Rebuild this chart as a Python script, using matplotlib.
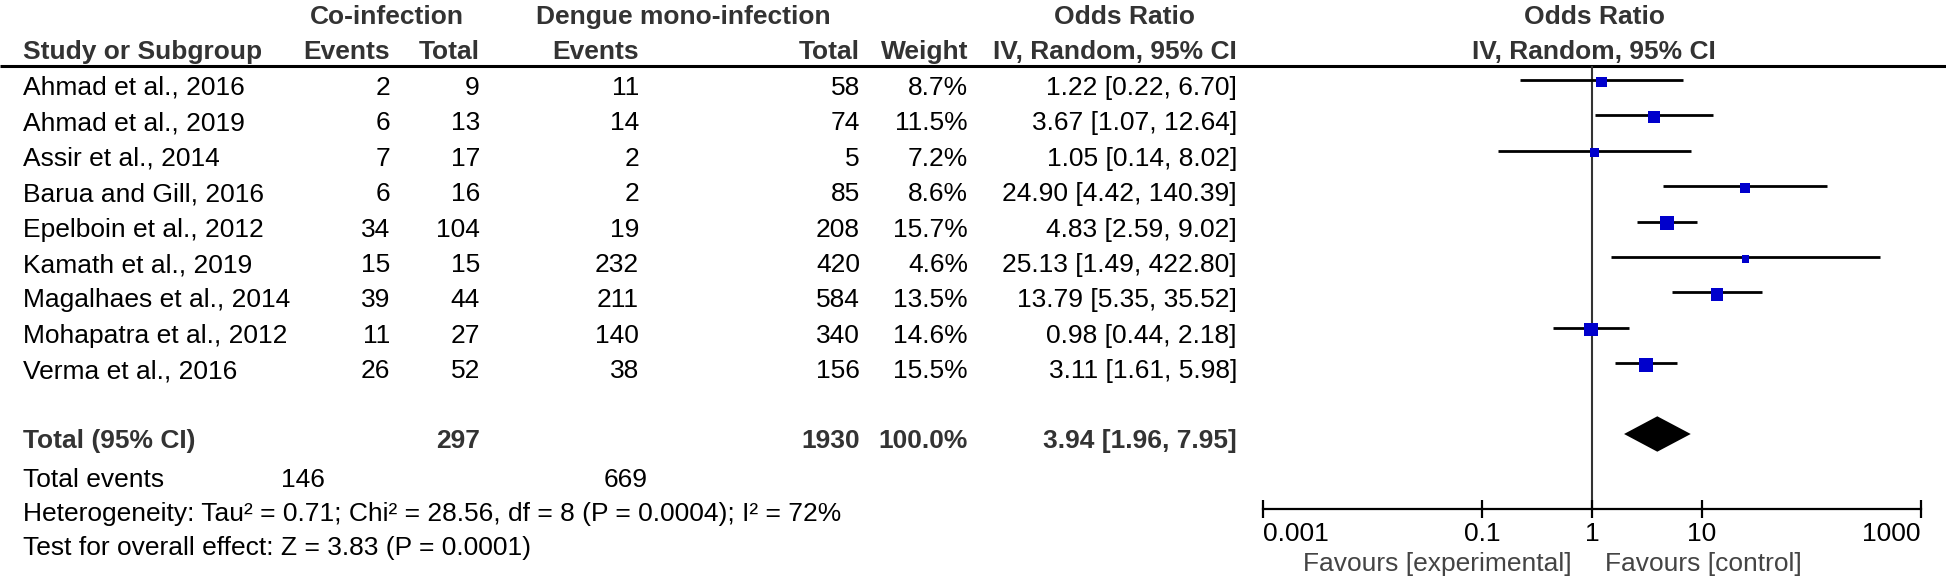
import numpy as np
import matplotlib
matplotlib.use("Agg")
import matplotlib.pyplot as plt

plt.rcParams['font.family'] = ['Liberation Sans', 'DejaVu Sans']
plt.rcParams['font.size'] = 19

studies = ["Ahmad et al., 2016", "Ahmad et al., 2019", "Assir et al., 2014",
           "Barua and Gill, 2016", "Epelboin et al., 2012", "Kamath et al., 2019",
           "Magalhaes et al., 2014", "Mohapatra et al., 2012", "Verma et al., 2016"]
co_events = [2, 6, 7, 6, 34, 15, 39, 11, 26]
co_total = [9, 13, 17, 16, 104, 15, 44, 27, 52]
mono_events = [11, 14, 2, 2, 19, 232, 211, 140, 38]
mono_total = [58, 74, 5, 85, 208, 420, 584, 340, 156]
weight = [8.7, 11.5, 7.2, 8.6, 15.7, 4.6, 13.5, 14.6, 15.5]
or_est = [1.22, 3.67, 1.05, 24.90, 4.83, 25.13, 13.79, 0.98, 3.11]
or_lo = [0.22, 1.07, 0.14, 4.42, 2.59, 1.49, 5.35, 0.44, 1.61]
or_hi = [6.70, 12.64, 8.02, 140.39, 9.02, 422.80, 35.52, 2.18, 5.98]
total_est, total_lo, total_hi = 3.94, 1.96, 7.95
xticks = [0.001, 0.1, 1, 10, 1000]
xticklabels = ["0.001", "0.1", "1", "10", "1000"]

W, H = 1946, 576
fig = plt.figure(figsize=(W / 100, H / 100), dpi=100)

# table part, pixel coordinates
tab = fig.add_axes([0, 0, 1, 1])
tab.set_xlim(0, W)
tab.set_ylim(H, 0)
tab.axis('off')

hdr = '#333333'
cols = [390, 480, 639, 860, 968, 1237]

def t(x, y, s, ha='right', bold=False, color='black'):
    tab.text(x, y, s, ha=ha, va='baseline', color=color,
             fontweight='bold' if bold else 'normal')

# header
t(387, 24, "Co-infection", ha='center', bold=True, color=hdr)
t(683, 24, "Dengue mono-infection", ha='center', bold=True, color=hdr)
t(1124, 24, "Odds Ratio", ha='center', bold=True, color=hdr)
t(1594, 24, "Odds Ratio", ha='center', bold=True, color=hdr)
t(23, 59, "Study or Subgroup", ha='left', bold=True, color=hdr)
for x, s in zip(cols, ["Events", "Total", "Events", "Total", "Weight",
                       "IV, Random, 95% CI"]):
    t(x, 59, s, bold=True, color=hdr)
t(1594, 59, "IV, Random, 95% CI", ha='center', bold=True, color=hdr)
tab.plot([0, W], [66, 66], color='black', lw=2.2, solid_capstyle='butt')

for i, name in enumerate(studies):
    y = 95 + 35.4 * i
    t(23, y, name, ha='left')
    vals = [str(co_events[i]), str(co_total[i]), str(mono_events[i]),
            str(mono_total[i]), f"{weight[i]:.1f}%",
            f"{or_est[i]:.2f} [{or_lo[i]:.2f}, {or_hi[i]:.2f}]"]
    for x, s in zip(cols, vals):
        t(x, y, s)

tb = 448
t(23, tb, "Total (95% CI)", ha='left', bold=True, color=hdr)
t(cols[1], tb, str(sum(co_total)), bold=True, color=hdr)
t(cols[3], tb, str(sum(mono_total)), bold=True, color=hdr)
t(cols[4], tb, "100.0%", bold=True, color=hdr)
t(cols[5], tb, f"{total_est:.2f} [{total_lo:.2f}, {total_hi:.2f}]", bold=True, color=hdr)

t(23, 487, "Total events", ha='left')
t(325, 487, str(sum(co_events)))
t(648, 487, str(sum(mono_events)))
t(23, 521, "Heterogeneity: Tau² = 0.71; Chi² = 28.56, df = 8 (P = 0.0004); I² = 72%", ha='left')
t(23, 555, "Test for overall effect: Z = 3.83 (P = 0.0001)", ha='left')

t(1572, 571, "Favours [experimental]", color='#444444')
t(1605, 571, "Favours [control]", ha='left', color='#444444')

# forest part
top, bot = 66, 509
fx = fig.add_axes([1263 / W, 1 - bot / H, (1921 - 1263) / W, (bot - top) / H])
fx.set_facecolor('none')
fx.set_xscale('log')
fx.set_xlim(0.001, 1000)
fx.set_ylim((bot - 80) / 35.4, (top - 80) / 35.4)
for s in ['top', 'left', 'right']:
    fx.spines[s].set_visible(False)
fx.spines['bottom'].set_linewidth(1.6)
fx.set_yticks([])
fx.set_xticks(xticks)
fx.set_xticklabels(xticklabels)
fx.xaxis.set_minor_locator(matplotlib.ticker.NullLocator())
fx.tick_params(axis='x', direction='inout', length=13, width=1.6, labelsize=19, pad=3)
labs = fx.get_xticklabels()
labs[0].set_horizontalalignment('left')
labs[-1].set_horizontalalignment('right')

fx.axvline(1, color='#333333', lw=1.5, zorder=1)
rows = np.arange(len(studies))
fx.hlines(rows, or_lo, or_hi, color='black', lw=2.0, zorder=2)
side = 3.5 * np.sqrt(weight) * 0.72
fx.scatter(or_est, rows + 0.05, s=side ** 2, marker='s', color='#0000cc',
           linewidths=0, zorder=3)
yd = 10.0
fx.fill([total_lo, total_est, total_hi, total_est],
        [yd, yd - 0.5, yd, yd + 0.5], color='black', lw=0, zorder=3)

fig.savefig("out.png", dpi=100)
